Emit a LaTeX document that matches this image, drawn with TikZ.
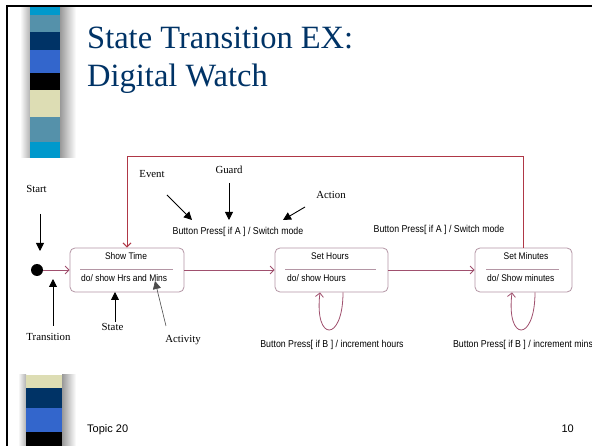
\documentclass[tikz,border=0pt]{standalone}
\usepackage{fontspec}
\setmainfont{Liberation Serif}
\newfontfamily\diagfont[FakeStretch=0.88]{Liberation Sans}
\newfontfamily\footfont{Liberation Sans}
\usetikzlibrary{arrows.meta,calc}
\definecolor{titleblue}{RGB}{0,51,102}
\definecolor{barcyan}{RGB}{0,153,204}
\definecolor{barsteel}{RGB}{85,145,170}
\definecolor{barnavy}{RGB}{0,51,102}
\definecolor{barroyal}{RGB}{51,102,204}
\definecolor{barcream}{RGB}{221,221,180}
\definecolor{loopred}{RGB}{175,55,70}
\definecolor{transcol}{RGB}{160,80,110}
\definecolor{boxborder}{RGB}{180,150,165}
\tikzset{
  statebox/.style={draw=boxborder, rounded corners=5pt, line width=0.8pt, inner sep=0pt, minimum height=44pt},
  divider/.style={draw=boxborder, line width=0.8pt},
  trans/.style={draw=transcol, line width=0.8pt, -{Straight Barb[length=4pt,width=8pt]}},
  framepath/.style={draw=loopred, line width=1pt, -{Straight Barb[length=4pt,width=8pt]}},
  boxtxt/.style={font=\diagfont\fontsize{9.6}{11}\selectfont, inner sep=0pt},
  diag/.style={font=\diagfont\fontsize{10}{12}\selectfont, inner sep=0pt},
  ann/.style={font=\fontsize{10.8}{13}\selectfont, inner sep=0pt},
  annarrow/.style={draw=black, line width=0.9pt, -{Triangle[length=8pt,width=8pt]}},
  actarrow/.style={draw=black!70, line width=0.6pt, -{Triangle[length=8pt,width=8pt]}},
  titletxt/.style={font=\fontsize{32.5}{38}\selectfont, text=titleblue, inner sep=0pt, anchor=base west},
  foottxt/.style={font=\footfont\fontsize{11}{13}\selectfont, inner sep=0pt}
}
\begin{document}
\begin{tikzpicture}[x=1pt,y=-1pt]
\useasboundingbox (0,0) rectangle (592,446);
\fill[white] (0,0) rectangle (592,446);
% top decorative bar with shadow
\shade[left color=white, right color=black!30] (20,6) rectangle (30,158);
\shade[left color=black!40, right color=white] (60,6) rectangle (76,158);
\fill[barcyan]  (30,6)   rectangle (60,15);
\fill[barsteel] (30,15)  rectangle (60,32);
\fill[barnavy]  (30,32)  rectangle (60,50);
\fill[barroyal] (30,50)  rectangle (60,73);
\fill[black]    (30,73)  rectangle (60,90);
\fill[barcream] (30,90)  rectangle (60,117);
\fill[barsteel] (30,117) rectangle (60,142);
\fill[barcyan]  (30,142) rectangle (60,158);
% bottom decorative bar with shadow
\shade[left color=white, right color=black!30] (18,375) rectangle (26,446);
\shade[left color=black!40, right color=white] (62,375) rectangle (76,446);
\fill[barcream] (26,375) rectangle (62,388);
\fill[barnavy]  (26,388) rectangle (62,408);
\fill[barroyal] (26,408) rectangle (62,432);
\fill[black]    (26,432) rectangle (62,446);
% slide frame
\draw[line width=2pt] (6,6) -- (592,6);
\draw[line width=2pt] (7,5) -- (7,446);
% title
\node[titletxt] (t1) at (87,49) {State Transition EX:};
\node[titletxt] (t2) at (87,86.5) {Digital Watch};
% states
\node[statebox, minimum width=114pt] (st) at (127,270) {};
\node[statebox, minimum width=113pt] (sh) at (331.5,270) {};
\node[statebox, minimum width=97pt] (sm) at (523.5,270) {};
\draw[divider] (80,269) -- (173,269);
\draw[divider] (285,269) -- (376,269);
\draw[divider] (486,269) -- (559,269);
\node[boxtxt] (stn) at (126,256) {Show Time};
\node[boxtxt, anchor=west] (sta) at (81,278) {do/ show Hrs and Mins};
\node[boxtxt] (shn) at (330,256) {Set Hours};
\node[boxtxt, anchor=west] (sha) at (287,278) {do/ show Hours};
\node[boxtxt] (smn) at (526,256) {Set Minutes};
\node[boxtxt, anchor=west] (sma) at (487,278) {do/ Show minutes};
% initial
\node[circle, fill=black, inner sep=0pt, minimum size=12pt] (start) at (37,270) {};
\draw[trans] (start) -- (st);
\draw[trans] (st) -- (sh);
\draw[trans] (sh) -- (sm);
\coordinate (topleft) at (127,157);
\draw[framepath] (sm.north) |- (topleft) -- (st.north);
% self loops
\draw[trans] ($(sh.south)+(11.5,0)$) .. controls +(0,50) and +(-6,50) .. ($(sh.south)+(-11.5,0)$);
\draw[trans] ($(sm.south)+(11.5,0)$) .. controls +(0,50) and +(-6,50) .. ($(sm.south)+(-11.5,0)$);
% transition labels
\node[diag] (lA1) at (238,232) {Button Press[ if A ] / Switch mode};
\node[diag] (lA2) at (439,230) {Button Press[ if A ] / Switch mode};
\node[diag] (lB1) at (332,345) {Button Press[ if B ] / increment hours};
\node[diag] (lB2) at (523,345) {Button Press[ if B ] / increment mins};
% annotations
\node[ann] (nstart) at (36.5,189) {Start};
\coordinate (startA) at (40,214); \coordinate (startB) at (40,251);
\draw[annarrow] (startA) -- (startB);
\node[ann] (nevent) at (152,174) {Event};
\coordinate (eventA) at (167,195); \coordinate (eventB) at (192,220);
\draw[annarrow] (eventA) -- (eventB);
\node[ann] (nguard) at (229,170) {Guard};
\coordinate (guardA) at (229,183); \coordinate (guardB) at (229,220);
\draw[annarrow] (guardA) -- (guardB);
\node[ann] (naction) at (331,195) {Action};
\coordinate (actionA) at (305,207); \coordinate (actionB) at (283,220);
\draw[annarrow] (actionA) -- (actionB);
\node[ann] (ntrans) at (48.5,337) {Transition};
\coordinate (transA) at (53,326); \coordinate (transB) at (53,279);
\draw[annarrow] (transA) -- (transB);
\node[ann] (nstate) at (112.5,327) {State};
\coordinate (stateA) at (115,322); \coordinate (stateB) at (115,292);
\draw[annarrow] (stateA) -- (stateB);
\node[ann] (nact) at (183,340) {Activity};
\coordinate (actA) at (166,326); \coordinate (actB) at (155,281);
\draw[actarrow] (actA) -- (actB);
% footer
\node[foottxt, anchor=base west] (topic) at (87,432) {Topic 20};
\node[foottxt, anchor=base east] (pagenum) at (574,432) {10};
\end{tikzpicture}
\end{document}
